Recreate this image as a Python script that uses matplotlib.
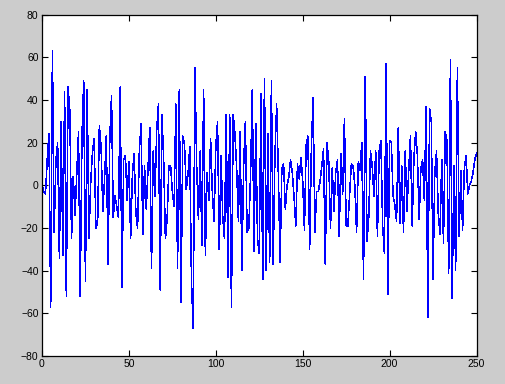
import numpy as np
import matplotlib
matplotlib.use("Agg")
import matplotlib.pyplot as plt

# signal values, one per sample (x = 0..250)
seg_a = [0, -3, -4, 12, 24, -57, 63, -22, 12, 20, -34, 30, -33, 44, -52,
         46, 35, -25, 4, -14, 6, 25, -52, 23, 49, -45, 45, -25, 1, 15,
         22, -20, -18, 28, 18, -12, 3, 23, -37, 22, 42, -15]
seg_b = [-5, -10, -15, 46, -48, 12, 14, -7, 11, -25, 5, 15, -13, -20, 16,
         29, -23, 9, -11, 8, 27, -39, 16, -5, 26, 38, -49, 33, 12, -25,
         -16, 9, 9, -3, -10, 38, -39, 45, -55, 23, 19]
seg_c = [-2, 5, 18, -45, -67, 55, 9, -16, 16, -28, 45, -33, 6, -7, 22,
         -3, -17, 18, 30, -30, 14, -15, -25, 33, -43, 33, -57, 33, 24, 8,
         -17, 25, -40, 9, 30, -22, -20, 5, 45, -31, 29, -25]
seg_d = [-32, 43, -44, 50, -40, 24, -36, 49, -37, 13, 38, 5, -36, 8, 10,
         -11, 0, 4, 12, 6, -5, -19, 10, 3, 13, 2, -21, 19, 23, -30,
         18, 41, -22, -3, -3, 2, 9, 17, -37, 20, 11]
seg_e = [-20, 8, -12, 6, 12, -24, 15, -4, 31, -19, -19, -4, 10, 9, 0,
         -22, 11, 7, 20, -44, 51, -26, -15, 16, 9, -5, 16, -24, 16, 21,
         -19, -32, 57, -51, 21, 20, -5, -9, -17, 27, -18, 9]
seg_f = [-22, 16, -12, 7, 23, -19, 13, 25, 14, -16, 8, 12, -7, 37, -62,
         36, 30, -44, 6, 16, -13, -23, 12, -27, 25, 21, -41, 59, -53, 9,
         -40, 55, -24, 7, -21, 8, 14, -4, 0, 2, 6, 12, 15]

y = np.array(seg_a + seg_b + seg_c + seg_d + seg_e + seg_f, dtype=float)
x = np.arange(len(y))

xticks = [0, 50, 100, 150, 200, 250]
yticks = [-80, -60, -40, -20, 0, 20, 40, 60, 80]

plt.rcParams['font.family'] = ['Liberation Sans', 'DejaVu Sans']

fig = plt.figure(figsize=(5.06, 3.84), dpi=100, facecolor='#cccccc')
ax = fig.add_axes([0.083, 0.073, 0.8587, 0.8888])
ax.set_facecolor('white')

# matlab-ish crisp thin line
ax.plot(x, y, color='#0000ff', linewidth=0.4, antialiased=False)

ax.set_xlim(0, 250)
ax.set_ylim(-80, 80)
ax.set_xticks(xticks)
ax.set_yticks(yticks)
ax.tick_params(direction='in', length=4, width=0.8, labelsize=7.5,
               top=True, right=True, pad=2.5, colors='black')
for s in ax.spines.values():
    s.set_linewidth(0.9)
    s.set_color('black')

fig.savefig('out.png', dpi=100, facecolor=fig.get_facecolor())
